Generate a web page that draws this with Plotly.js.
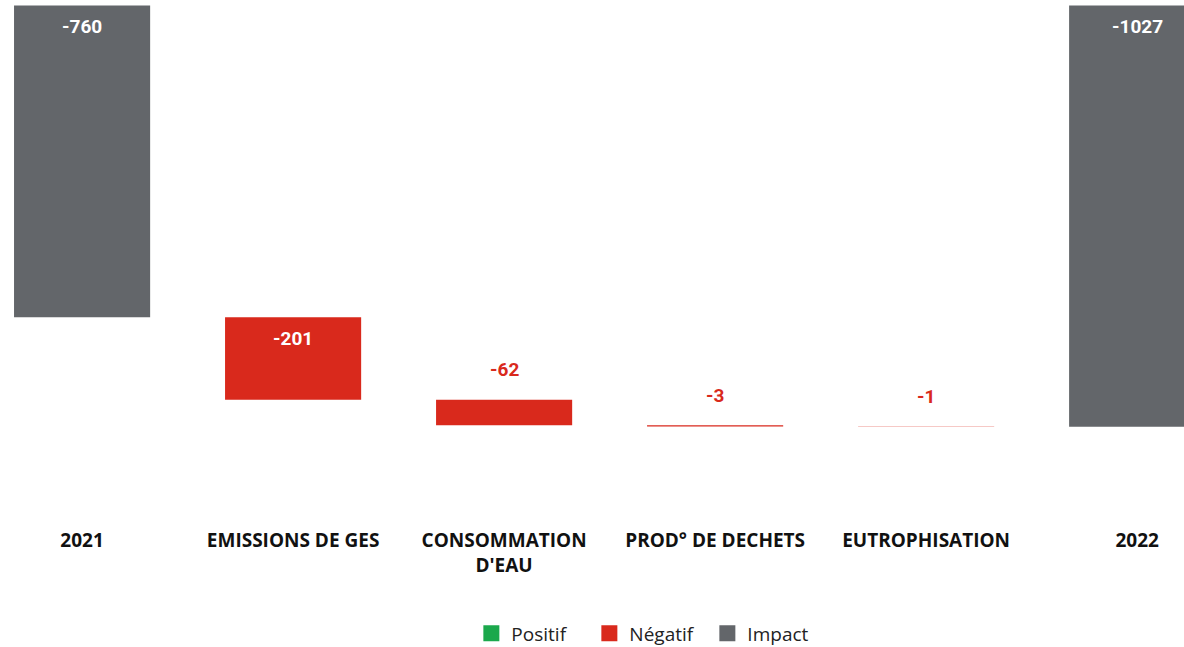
<!DOCTYPE html>
<html>
<head>
<meta charset="utf-8">
<script src="https://cdn.plot.ly/plotly-3.0.1.min.js"></script>
<style>html,body{margin:0;padding:0;background:#fff;}#chart{width:1184px;height:647px;}</style>
</head>
<body>
<div id="chart"></div>
<script>
const categories = ['2021', 'EMISSIONS DE GES', "CONSOMMATION<br>D'EAU", 'PROD° DE DECHETS', 'EUTROPHISATION', '2022'];
const values = [-760, -201, -62, -3, -1, -1027];
const kinds = ['Impact', 'Négatif', 'Négatif', 'Négatif', 'Négatif', 'Impact'];
const seriesNames = ['Positif', 'Négatif', 'Impact'];
const seriesColors = {'Positif': '#1BA84C', 'Négatif': '#D9291C', 'Impact': '#63666A'};

// running bases for the waterfall
const bases = [];
let running = 0;
values.forEach((v, i) => {
  if (kinds[i] === 'Impact') { bases.push(0); running = v; }
  else { bases.push(running); running += v; }
});

const barTraces = seriesNames.map(name => ({
  type: 'bar',
  name: name,
  legendgroup: name,
  showlegend: false,
  x: categories,
  y: values.map((v, i) => kinds[i] === name ? v : null),
  base: bases.map((b, i) => kinds[i] === name ? b : null),
  marker: {color: seriesColors[name]},
  hoverinfo: 'skip'
}));

// legend entries with larger square swatches
const legendTraces = seriesNames.map(name => ({
  type: 'scatter',
  mode: 'markers',
  name: name,
  legendgroup: name,
  x: [null], y: [null],
  marker: {symbol: 'square', size: 16, color: seriesColors[name], line: {width: 0}},
  hoverinfo: 'skip'
}));

// value labels (x given as category index so numeric-looking names are not misread)
const annotations = values.map((v, i) => {
  const inside = Math.abs(v) > 100;
  return {
    x: i, y: bases[i], xref: 'x', yref: 'y',
    text: String(v), showarrow: false,
    yanchor: 'middle', yshift: inside ? -21 : 30,
    font: {family: 'Roboto', size: 19, color: inside ? '#ffffff' : '#D9291C', weight: 'bold'}
  };
});

const layout = {
  width: 1184, height: 647,
  margin: {l: 0, r: 0, t: 5, b: 127, autoexpand: false},
  paper_bgcolor: '#ffffff', plot_bgcolor: '#ffffff',
  barmode: 'overlay', bargap: 0.355,
  showlegend: true,
  legend: {orientation: 'h', x: 0.5476, xanchor: 'center', y: -0.22, yanchor: 'middle',
           entrywidth: 73, entrywidthmode: 'pixels',
           font: {family: 'Open Sans', size: 19, color: '#222'}, itemclick: false, itemsizing: 'trace'},
  xaxis: {type: 'category', range: [-0.389, 5.222], showgrid: false, zeroline: false, showline: false,
          ticks: '', tickfont: {family: 'Open Sans', size: 19, color: '#111', weight: 'bold'}, ticklabelstandoff: 7},
  yaxis: {range: [-1254, 1], visible: false, showgrid: false, zeroline: false},
  annotations: annotations
};

Plotly.newPlot('chart', barTraces.concat(legendTraces), layout, {displayModeBar: false, staticPlot: true});
</script>
</body>
</html>
